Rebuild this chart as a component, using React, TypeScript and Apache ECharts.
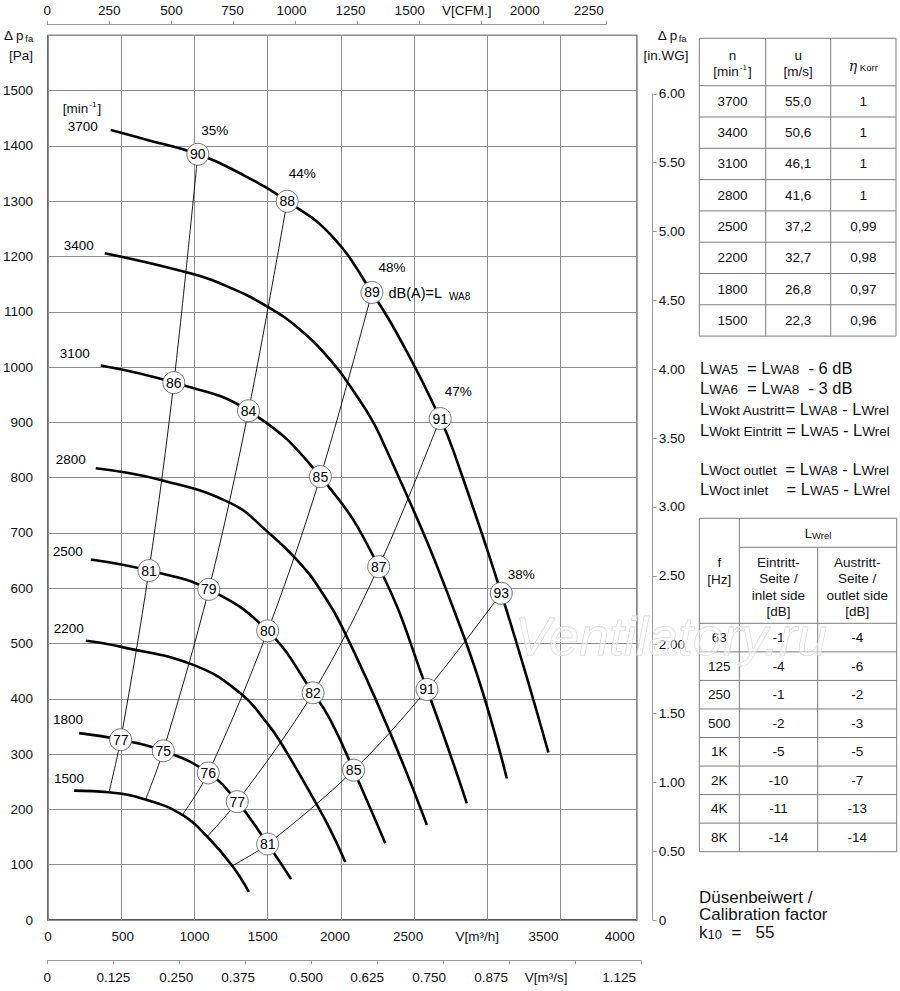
import React, { useEffect, useRef } from 'react';
import * as echarts from 'echarts';

const FONT = '"Liberation Sans", Arial, Helvetica, sans-serif';

// ---------- data ----------
const rpm = ['3700', '3400', '3100', '2800', '2500', '2200', '1800', '1500'];
const c3700 = [[428, 1429], [678, 1411], [1023, 1385], [1337, 1347], [1633, 1300], [1928, 1240], [2212, 1135], [2450, 1028], [2678, 907], [2769, 848], [3095, 591], [3417, 303]];
const c3400 = [[387, 1206], [951, 1171], [1223, 1146], [1501, 1109], [1720, 1068], [1928, 1013], [2065, 965], [2269, 875], [2849, 506], [3133, 256]];
const c3100 = [[360, 1003], [859, 972], [1369, 921], [1860, 802], [2258, 639], [2588, 417], [2860, 211]];
const c2800 = [[326, 817], [769, 796], [1247, 754], [1500, 702], [1701, 651], [1860, 597], [2030, 518], [2337, 338], [2587, 172]];
const c2500 = [[292, 652], [689, 632], [1098, 598], [1500, 523], [1810, 411], [1928, 362], [2087, 271], [2303, 139]];
const c2200 = [[258, 505], [501, 494], [996, 461], [1314, 410], [1496, 356], [1587, 322], [1837, 208], [1928, 163], [2030, 105]];
const c1800 = [[212, 338], [496, 326], [787, 306], [1094, 266], [1292, 214], [1500, 137.5], [1660, 74]];
const c1500 = [[178, 234], [416, 231], [666, 218], [917, 190], [1087, 151], [1258, 98], [1371, 51]];
const speedCurves = [c3700, c3400, c3100, c2800, c2500, c2200, c1800, c1500];

const effNames = ['35%', '44%', '48%', '47%', '38%'];
const e35 = [[416, 231], [496, 326], [689, 632], [859, 972], [1023, 1385]];
const e44 = [[666, 218], [787, 306], [1098, 598], [1369, 921], [1633, 1300]];
const e48 = [[917, 190], [1094, 266], [1500, 523], [1860, 802], [2212, 1135]];
const e47 = [[1087, 151], [1292, 214], [1810, 411], [2258, 639], [2678, 907]];
const e38 = [[1258, 98], [1500, 137.5], [2087, 271], [2588, 417], [3095, 591]];
const effLines = [e35, e44, e48, e47, e38];
const dB35 = [77, 81, 86, 90];
const dB44 = [75, 79, 84, 88];
const dB48 = [76, 80, 85, 89];
const dB47 = [77, 82, 87, 91];
const dB38 = [81, 85, 91, 93];
const effDB = [dB35, dB44, dB48, dB47, dB38];

const xTicksM3h = ['0', '500', '1000', '1500', '2000', '2500', 'V[m³/h]', '3500', '4000'];
const xTicksCFM = ['0', '250', '500', '750', '1000', '1250', '1500', 'V[CFM.]', '2000', '2250'];
const xTicksM3s = ['0', '0.125', '0.250', '0.375', '0.500', '0.625', '0.750', '0.875', 'V[m³/s]', '1.125'];
const yTicksPa = ['0', '100', '200', '300', '400', '500', '600', '700', '800', '900', '1000', '1100', '1200', '1300', '1400', '1500'];
const yTicksInWG = ['0', '0.50', '1.00', '1.50', '2.00', '2.50', '3.00', '3.50', '4.00', '4.50', '5.00', '5.50', '6.00'];

const tableN = ['3700', '3400', '3100', '2800', '2500', '2200', '1800', '1500'];
const tableU = ['55,0', '50,6', '46,1', '41,6', '37,2', '32,7', '26,8', '22,3'];
const tableEta = ['1', '1', '1', '1', '0,99', '0,98', '0,97', '0,96'];

const freq = ['63', '125', '250', '500', '1K', '2K', '4K', '8K'];
const lwInlet = ['-1', '-4', '-1', '-2', '-5', '-10', '-11', '-14'];
const lwOutlet = ['-4', '-6', '-2', '-3', '-5', '-7', '-13', '-14'];

// ---------- layout / style ----------
const GX = 47.3;
const GTOP = 35.4;
const GW = 589.4;
const GH = 884.6;
const speedLabelOffset = [[-28, -3], [-26, -8], [-26, -12], [-25, -9], [-23, -8], [-17, -12], [-11, -14], [-5, -12]];
const effLabelOffset = [[17, -24], [15, -28], [20, -25], [18, -27], [20, -19]];
const shiftM3h = [0, 1.5, 0, -5, -6, -6, -10, -17, -14];
const shiftCFM = [0, 0, 0, -1, -4, -7, -10, -15, -19, -17];
const shiftM3s = [0, 0, -3, -7, -5, -10, -14, -18, -29, -22];

const FS = 13.5;
const INK = '#111';

function shiftRich(shifts: number[]) {
  const rich: any = {};
  shifts.forEach((s, i) => {
    rich['p' + i] = {
      fontSize: FS,
      fontFamily: FONT,
      color: INK,
      padding: s < 0 ? [0, -2 * s, 0, 0] : [0, 0, 0, 2 * s],
    };
  });
  return rich;
}

function tickFormatter(labels: string[], step: number) {
  return (v: number) => {
    const i = Math.round(v / step);
    if (Math.abs(i * step - v) > 1e-6 || i >= labels.length) return '';
    return '{p' + i + '|' + labels[i] + '}';
  };
}

function buildGraphics() {
  const g: any[] = [];
  const text = (x: number, y: number, t: string, extra: any = {}) => {
    g.push({
      type: 'text',
      z: 20,
      style: {
        x,
        y,
        text: t,
        fill: INK,
        fontSize: FS,
        fontFamily: FONT,
        align: 'center',
        verticalAlign: 'middle',
        textAlign: 'center',
        textVerticalAlign: 'middle',
        ...extra,
      },
    });
  };
  const line = (x1: number, y1: number, x2: number, y2: number, color = '#7d7d7d') => {
    g.push({ type: 'line', z: 20, shape: { x1, y1, x2, y2 }, style: { stroke: color, lineWidth: 1 } });
  };

  // axis titles
  text(4, 35, '{a|Δ p}{b|fa}', {
    align: 'left', textAlign: 'left',
    rich: { a: { fontSize: FS, fontFamily: FONT, fill: INK }, b: { fontSize: 9.5, fontFamily: FONT, fill: INK, padding: [6, 0, 0, 1] } },
  });
  text(21, 55, '[Pa]');
  text(672, 35, '{a|Δ p}{b|fa}', {
    rich: { a: { fontSize: FS, fontFamily: FONT, fill: INK }, b: { fontSize: 9.5, fontFamily: FONT, fill: INK, padding: [6, 0, 0, 1] } },
  });
  text(666, 55, '[in.WG]');
  text(82, 108, '{a|[min}{b|-1}{a|]}', {
    rich: { a: { fontSize: FS, fontFamily: FONT, fill: INK }, b: { fontSize: 8, fontFamily: FONT, fill: INK, padding: [0, 1, 7, 1] } },
  });

  // table 1
  const t1x = [699.3, 765.7, 830.7, 896];
  const t1top = 38.3;
  const t1head = 85.7;
  const t1row = 31.3;
  const t1bot = t1head + t1row * tableN.length;
  t1x.forEach((x) => line(x, t1top, x, t1bot));
  line(t1x[0], t1top, t1x[3], t1top);
  for (let i = 0; i <= tableN.length; i++) line(t1x[0], t1head + i * t1row, t1x[3], t1head + i * t1row);
  const c1 = [(t1x[0] + t1x[1]) / 2, (t1x[1] + t1x[2]) / 2, (t1x[2] + t1x[3]) / 2];
  text(c1[0], 55, 'n');
  text(c1[0], 71, '{a|[min}{b|-1}{a|]}', {
    rich: { a: { fontSize: FS, fontFamily: FONT, fill: INK }, b: { fontSize: 8, fontFamily: FONT, fill: INK, padding: [0, 1, 7, 1] } },
  });
  text(c1[1], 55, 'u');
  text(c1[1], 71, '[m/s]');
  text(c1[2], 66, '{e|η}{k| Korr}', {
    rich: {
      e: { fontSize: 14, fontFamily: '"DejaVu Serif", serif', fontStyle: 'italic', fill: INK },
      k: { fontSize: 9.5, fontFamily: FONT, fill: INK, padding: [2, 0, 0, 0] },
    },
  });
  tableN.forEach((n, i) => {
    const y = t1head + t1row * (i + 0.5);
    text(c1[0], y, n);
    text(c1[1], y, tableU[i]);
    text(c1[2], y, tableEta[i]);
  });

  // formulas
  const big = { fontSize: 16.5, fontFamily: FONT, fill: INK };
  const sml = { fontSize: 13.5, fontFamily: FONT, fill: INK, padding: [3, 0, 0, 0] };
  const formulas = [
    [368, '{L|L}{s|WA5}{n|  = }{L|L}{s|WA8}{n|  - 6 dB}'],
    [388, '{L|L}{s|WA6}{n|  = }{L|L}{s|WA8}{n|  - 3 dB}'],
    [409, '{L|L}{s|Wokt Austritt}{n|= }{L|L}{s|WA8}{n| - }{L|L}{s|Wrel}'],
    [430, '{L|L}{s|Wokt Eintritt}{n| = }{L|L}{s|WA5}{n| - }{L|L}{s|Wrel}'],
    [469, '{L|L}{s|Woct outlet}{n|  = }{L|L}{s|WA8}{n| - }{L|L}{s|Wrel}'],
    [489, '{L|L}{s|Woct inlet}{n|    = }{L|L}{s|WA5}{n| - }{L|L}{s|Wrel}'],
  ];
  formulas.forEach(([y, t]) => {
    text(700, y as number, t as string, { align: 'left', textAlign: 'left', rich: { L: big, n: big, s: sml } });
  });

  // table 2
  const t2x = [699.3, 739.3, 817.7, 896.7];
  const t2top = 518.3;
  const t2sub = 547.3;
  const t2head = 623.3;
  const t2row = 28.55;
  const t2bot = t2head + t2row * freq.length;
  line(t2x[0], t2top, t2x[3], t2top);
  line(t2x[0], t2top, t2x[0], t2bot);
  line(t2x[3], t2top, t2x[3], t2bot);
  line(t2x[1], t2top, t2x[1], t2bot);
  line(t2x[2], t2sub, t2x[2], t2bot);
  line(t2x[1], t2sub, t2x[3], t2sub);
  for (let i = 0; i <= freq.length; i++) line(t2x[0], t2head + i * t2row, t2x[3], t2head + i * t2row);
  const c2 = [(t2x[0] + t2x[1]) / 2, (t2x[1] + t2x[2]) / 2, (t2x[2] + t2x[3]) / 2];
  text((t2x[1] + t2x[3]) / 2, 533.5, '{L|L}{s|Wrel}', {
    rich: { L: { fontSize: 13, fontFamily: FONT, fill: INK }, s: { fontSize: 9.5, fontFamily: FONT, fill: INK, padding: [3, 0, 0, 0] } },
  });
  text(c2[0], 562.7, 'f');
  text(c2[0], 579.3, '[Hz]');
  ['Eintritt-', 'Seite /', 'inlet side', '[dB]'].forEach((t, i) => text(c2[1], 562.7 + i * 16.2, t));
  ['Austritt-', 'Seite /', 'outlet side', '[dB]'].forEach((t, i) => text(c2[2], 562.7 + i * 16.2, t));
  freq.forEach((f, i) => {
    const y = t2head + t2row * (i + 0.5);
    text(c2[0], y, f);
    text(c2[1], y, lwInlet[i]);
    text(c2[2], y, lwOutlet[i]);
  });

  // calibration factor
  const cal = { fontSize: 17, fontFamily: FONT, fill: INK };
  text(699, 897, 'Düsenbeiwert /', { align: 'left', textAlign: 'left', fontSize: 17 });
  text(699, 914, 'Calibration factor', { align: 'left', textAlign: 'left', fontSize: 17 });
  text(699, 932, '{n|k}{s|10}{n|  =   55}', {
    align: 'left', textAlign: 'left',
    rich: { n: cal, s: { fontSize: 13, fontFamily: FONT, fill: INK, padding: [5, 0, 0, 0] } },
  });

  // watermark
  g.push({
    type: 'text',
    z: 30,
    silent: true,
    style: {
      x: 671,
      y: 636,
      text: 'Ventilatory.ru',
      fontSize: 54,
      fontFamily: FONT,
      fontStyle: 'italic',
      fill: 'rgba(255,255,255,0.45)',
      stroke: '#d6d6d6',
      lineWidth: 0.8,
      align: 'center',
      verticalAlign: 'middle',
      textAlign: 'center',
      textVerticalAlign: 'middle',
    },
  });
  return g;
}

function buildOption() {
  const series: any[] = [];
  speedCurves.forEach((c, i) => {
    series.push({
      type: 'line',
      name: rpm[i],
      xAxisIndex: 0,
      yAxisIndex: 0,
      data: c,
      smooth: 0.45,
      symbol: 'none',
      lineStyle: { color: '#000', width: 2.6 },
      z: 4,
      silent: true,
    });
  });
  effLines.forEach((l, i) => {
    series.push({
      type: 'line',
      name: effNames[i],
      xAxisIndex: 0,
      yAxisIndex: 0,
      data: l,
      smooth: 0.35,
      symbol: 'none',
      lineStyle: { color: '#000', width: 0.9 },
      z: 3,
      silent: true,
    });
  });
  const circles: any[] = [];
  effLines.forEach((l, i) => {
    effDB[i].forEach((db, j) => circles.push({ value: [l[j + 1][0], l[j + 1][1], db] }));
  });
  series.push({
    type: 'scatter',
    xAxisIndex: 0,
    yAxisIndex: 0,
    data: circles,
    symbol: 'circle',
    symbolSize: 22,
    itemStyle: { color: '#fff', borderColor: '#555', borderWidth: 0.8, opacity: 1 },
    label: {
      show: true,
      position: 'inside',
      formatter: (p: any) => String(p.value[2]),
      color: '#000',
      fontSize: 14,
      fontFamily: FONT,
    },
    z: 6,
    silent: true,
  });

  const labels: any[] = [];
  speedCurves.forEach((c, i) => {
    labels.push({ value: c[0], name: rpm[i], label: { offset: speedLabelOffset[i] } });
  });
  effLines.forEach((l, i) => {
    labels.push({ value: l[l.length - 1], name: effNames[i], label: { offset: effLabelOffset[i] } });
  });
  labels.push({
    value: e48[e48.length - 1],
    name: '{a|dB(A)=L}{b|WA8}',
    label: { offset: [16.5, 0.5], align: 'left' },
  });
  series.push({
    type: 'scatter',
    xAxisIndex: 0,
    yAxisIndex: 0,
    data: labels,
    symbol: 'circle',
    symbolSize: 1,
    itemStyle: { color: 'rgba(0,0,0,0)', opacity: 1 },
    label: {
      show: true,
      position: 'inside',
      formatter: '{b}',
      color: '#000',
      opacity: 1,
      fontSize: FS,
      fontFamily: FONT,
      rich: {
        a: { fontSize: 14.5, fontFamily: FONT, color: '#000' },
        b: { fontSize: 10, fontFamily: FONT, color: '#000', padding: [8, 0, 0, 7] },
      },
    },
    emphasis: { disabled: true },
    z: 7,
    silent: true,
  });

  const splitColors = ['#8c8c8c', '#8c8c8c', '#8c8c8c', '#8c8c8c', '#8c8c8c', '#8c8c8c', '#8c8c8c', '#8c8c8c', 'rgba(0,0,0,0)', '#8c8c8c'];

  return {
    animation: false,
    backgroundColor: '#fff',
    textStyle: { fontFamily: FONT },
    grid: [
      { left: GX, top: GTOP, width: GW, height: GH, show: true, borderColor: '#222', borderWidth: 1.4, backgroundColor: 'rgba(0,0,0,0)' },
      { left: 652.7, top: 93.8, width: 1, height: 826.2 },
      { left: GX, top: 23.3, width: 558.5, height: 1 },
      { left: GX, top: 959.7, width: 593.8, height: 1 },
    ],
    xAxis: [
      {
        gridIndex: 0,
        type: 'value',
        min: 0,
        max: 4020,
        interval: 500,
        axisLine: { show: false },
        axisTick: { show: false },
        splitLine: { show: true, lineStyle: { color: splitColors, width: 1 } },
        axisLabel: { margin: 9, formatter: tickFormatter(xTicksM3h, 500), rich: shiftRich(shiftM3h), color: INK, fontSize: FS },
      },
      { gridIndex: 1, type: 'value', min: 0, max: 1, show: false },
      {
        gridIndex: 2,
        type: 'value',
        position: 'top',
        min: 0,
        max: 2250,
        interval: 250,
        axisLine: { show: true, lineStyle: { color: '#9a9a9a', width: 1 } },
        axisTick: { show: true, length: 3.5, lineStyle: { color: '#9a9a9a' } },
        splitLine: { show: false },
        axisLabel: { margin: 6, formatter: tickFormatter(xTicksCFM, 250), rich: shiftRich(shiftCFM), color: INK, fontSize: FS },
      },
      {
        gridIndex: 3,
        type: 'value',
        position: 'bottom',
        min: 0,
        max: 1.125,
        interval: 0.125,
        axisLine: { show: true, lineStyle: { color: '#9a9a9a', width: 1 } },
        axisTick: { show: true, length: 3.5, lineStyle: { color: '#9a9a9a' } },
        splitLine: { show: false },
        axisLabel: { margin: 10, formatter: tickFormatter(xTicksM3s, 0.125), rich: shiftRich(shiftM3s), color: INK, fontSize: FS },
      },
    ],
    yAxis: [
      {
        gridIndex: 0,
        type: 'value',
        min: 0,
        max: 1600,
        interval: 100,
        axisLine: { show: false },
        axisTick: { show: false },
        splitLine: { show: true, lineStyle: { color: '#8c8c8c', width: 1 } },
        axisLabel: {
          margin: 15,
          color: INK,
          fontSize: FS,
          fontFamily: FONT,
          formatter: (v: number) => yTicksPa[Math.round(v / 100)] ?? '',
        },
      },
      {
        gridIndex: 1,
        type: 'value',
        position: 'left',
        min: 0,
        max: 6,
        interval: 0.5,
        axisLine: { show: true, lineStyle: { color: '#9a9a9a', width: 1 } },
        axisTick: { show: true, inside: true, length: 4, lineStyle: { color: '#9a9a9a' } },
        splitLine: { show: false },
        axisLabel: {
          inside: true,
          margin: 6,
          color: INK,
          fontSize: FS,
          fontFamily: FONT,
          formatter: (v: number) => yTicksInWG[Math.round(v / 0.5)] ?? '',
        },
      },
      { gridIndex: 2, type: 'value', show: false, min: 0, max: 1 },
      { gridIndex: 3, type: 'value', show: false, min: 0, max: 1 },
    ],
    series,
    graphic: { elements: buildGraphics() },
  };
}

export default function App() {
  const ref = useRef<HTMLDivElement>(null);
  useEffect(() => {
    if (!ref.current) return;
    const chart = echarts.init(ref.current, null, { renderer: 'svg' });
    chart.setOption(buildOption() as any);
    return () => chart.dispose();
  }, []);
  return (
    <div
      ref={ref}
      style={{ position: 'absolute', left: 0, top: 0, width: 900, height: 991, background: '#fff' }}
    />
  );
}
